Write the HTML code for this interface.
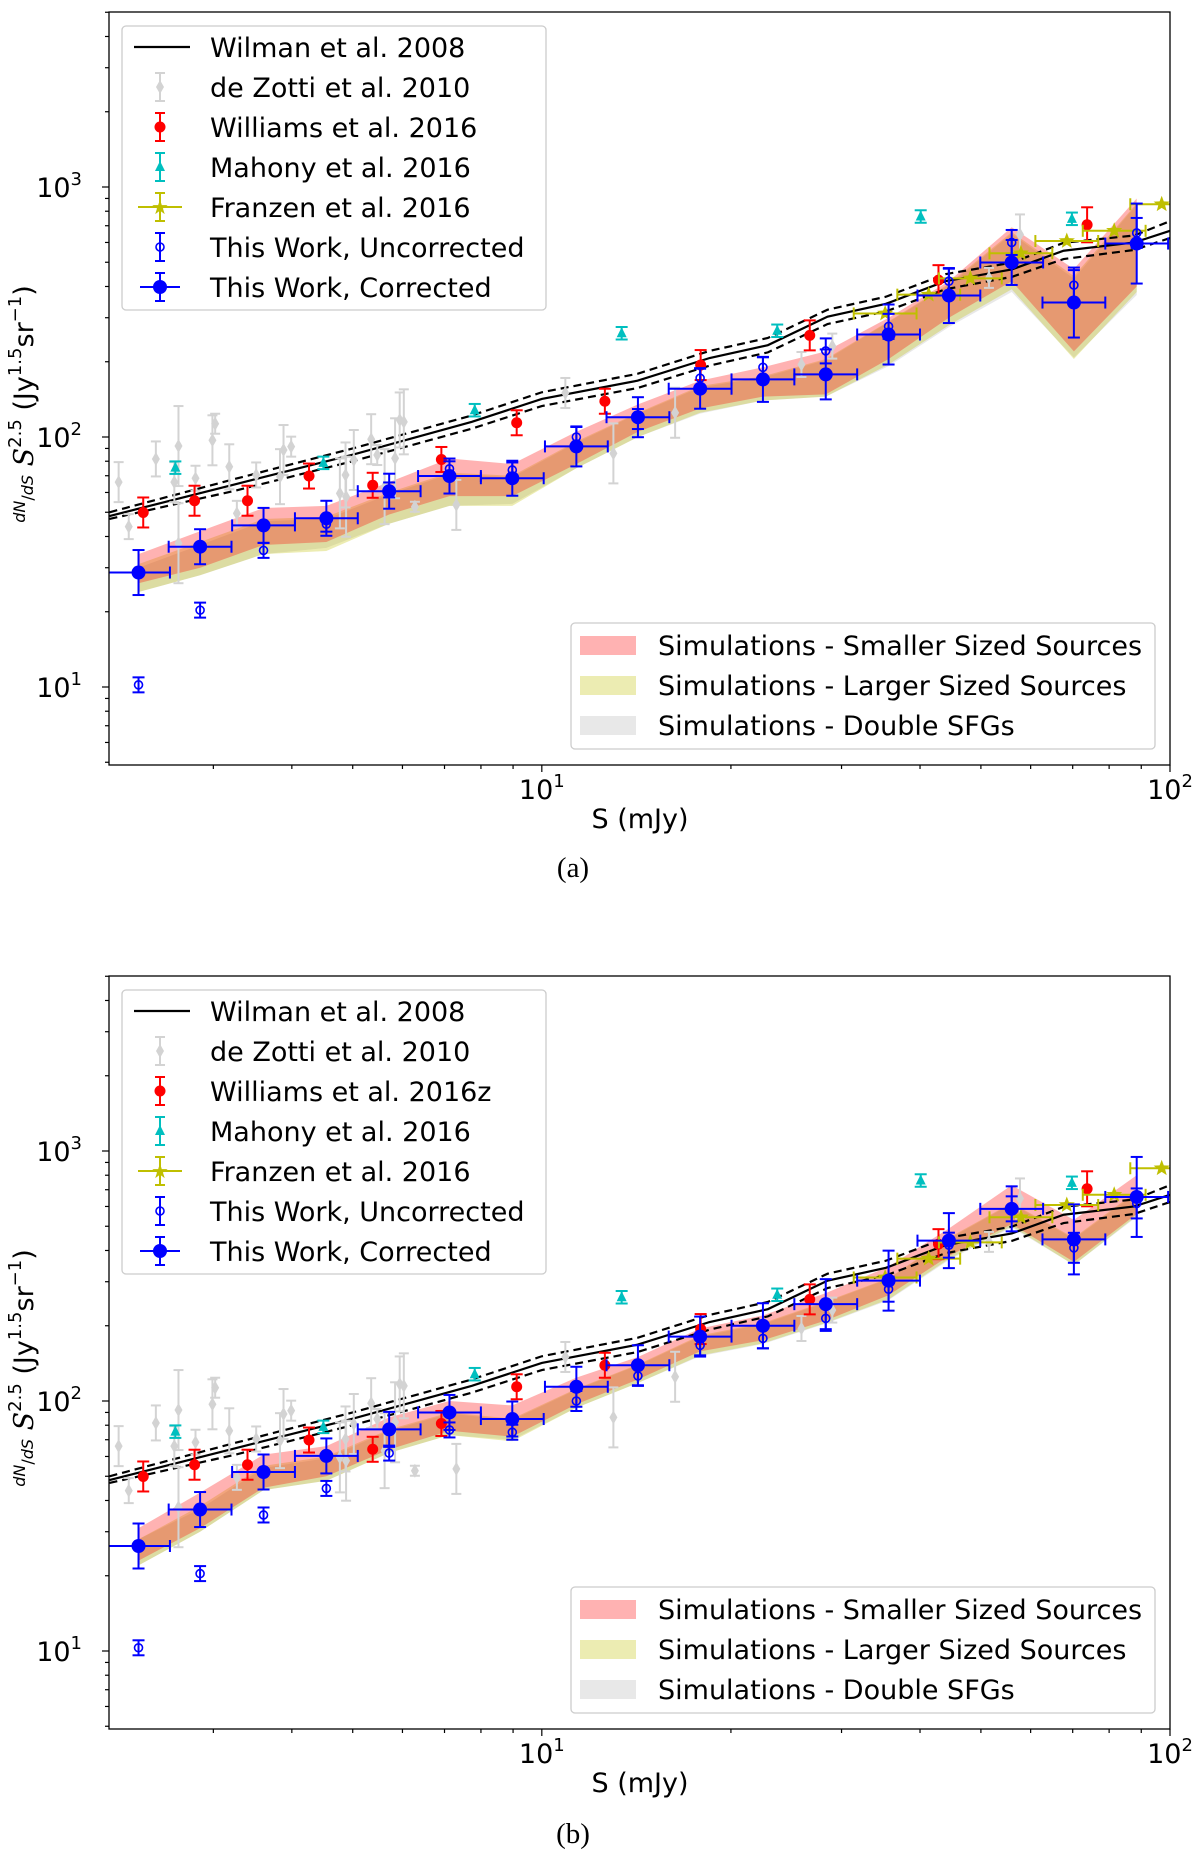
<!DOCTYPE html>
<html><head><meta charset="utf-8"><style>
html,body{margin:0;padding:0;background:#fff}
svg{display:block;font-family:"DejaVu Sans","Liberation Sans",sans-serif}
</style></head><body>
<svg id="fig" width="1200" height="1861" viewBox="0 0 1200 1861" xmlns="http://www.w3.org/2000/svg"></svg>
<script>
// ---- data ----
const binLogS = [0.358,0.456,0.557,0.657,0.757,0.853,0.953,1.055,1.153,1.252,1.352,1.452,1.552,1.648,1.748,1.847,1.947];
const corrA = [28.7,36.4,44.3,47.3,60.7,69.8,68.4,91.7,120,156,170,178,257,368,499,345,594];
const corrB = [26.3,36.8,52,60.3,77,90,84.7,114,139,181,200,244,303,438,587,443,655];
const corrErr = [0.09,0.07,0.07,0.07,0.07,0.07,0.07,0.08,0.08,0.08,0.09,0.1,0.12,0.11,0.09,0.14,0.16];
const uncA = [10.2,20.3,35.2,44.8,61.4,74.6,73.8,100,118,172,190,221,277,420,600,405,655];
const uncB = [10.3,20.4,35,44.7,61.9,76.6,75,100,126,167,178,214,280,420,587,410,617];
const uncErr = [0.03,0.03,0.03,0.03,0.03,0.03,0.03,0.04,0.04,0.04,0.04,0.05,0.05,0.05,0.05,0.06,0.06];
const pinkHiA = [34,42,52,53,66,82,78,105,135,168,190,220,300,420,690,470,900];
const pinkLoA = [26,30,37,38,49,58,58,78,105,130,145,148,205,300,420,220,400];
const yelHiA = [31,38,47,48,60,72,70,96,125,160,175,205,290,410,660,440,860];
const yelLoA = [24,28,34,35,45,53,53,75,100,125,140,145,195,280,390,205,380];
const grayHiA = [30,37,46,47,59,71,69,95,124,158,173,203,288,405,650,430,850];
const grayLoA = [24,28,34,36,45,53,54,75,100,124,140,145,192,275,380,208,370];
const pinkHiB = [31,43,61,66,86,100,96,124,150,195,220,270,345,490,730,530,800];
const pinkLoB = [23,31,45,50,64,76,72,97,122,158,175,210,265,380,510,360,560];
const yelHiB = [28,38,55,60,77,90,85,112,140,183,205,250,310,450,620,450,690];
const yelLoB = [22,30,44,48,62,73,69,94,118,152,170,205,255,370,500,350,550];
const grayHiB = [28,37,54,59,76,89,84,111,139,181,203,248,308,445,615,445,680];
const grayLoB = [22,30,44,48,62,73,70,94,118,151,169,204,253,366,495,350,545];
const wilS = [2.05,3.25,5.0,7.74,10,14.2,18.5,22.9,28.5,35.3,43.9,56,67.7,87.7,100];
const wilY = [48.3,64.7,85,115,142,168,207,233,303,341,420,468,556,600,668];
const wilUp = [50,68,90,122,151,179,221,249,323,364,448,498,598,640,730];
const wilLo = [47,61,80,108,133,157,193,218,283,318,390,437,515,560,625];
const zotS = [2.12,2.2,2.43,2.6,2.64,2.64,2.81,2.99,3.02,3.18,3.27,3.51,3.83,3.88,3.99,4.77,4.87,4.88,5.02,5.35,5.47,5.62,5.84,5.94,6.03,6.28,7.31,10.9,13,16.3,25.9,29,51.5,57.7];
const zotY = [66,43.8,81.7,66,92,37.6,68.4,97,113,76,49.5,70.5,69.4,88.7,91.5,59.5,70.5,57.7,80.9,98,84.7,63.3,82.2,117,115,52.6,53.5,150,86,125,195,231,433,646];
const zotErr = [0.08,0.05,0.07,0.08,0.16,0.16,0.05,0.1,0.04,0.09,0.05,0.05,0.11,0.1,0.04,0.14,0.13,0.16,0.12,0.1,0.04,0.15,0.16,0.11,0.13,0.02,0.1,0.06,0.12,0.1,0.05,0.05,0.04,0.08];
const wmsS = [2.32,2.8,3.4,4.26,5.38,6.92,9.12,12.6,17.9,26.7,42.8,73.8];
const wmsY = [49.9,55.6,55.6,69.8,64.1,81.3,114,139,194,255,424,706];
const wmsErr = [0.06,0.06,0.06,0.05,0.05,0.05,0.05,0.05,0.06,0.06,0.06,0.07];
const mahS = [2.61,4.49,7.82,13.4,23.7,40.1,69.8];
const mahY = [75.4,78.8,128,260,266,762,746];
const franS = [35.2,41.3,48.1,57.9,68.5,81.5,97];
const franY = [312,371,431,543,608,668,853];
const franXErr = [0.05,0.05,0.05,0.05,0.05,0.05,0.05];
const legendLabels = ["Wilman et al. 2008","de Zotti et al. 2010","Williams et al. 2016","Mahony et al. 2016","Franzen et al. 2016","This Work, Uncorrected","This Work, Corrected"];
const simLabels = ["Simulations - Smaller Sized Sources","Simulations - Larger Sized Sources","Simulations - Double SFGs"];

// ---- drawing ----
const NS = "http://www.w3.org/2000/svg";
const svg = document.getElementById('fig');
function el(tag, attrs, parent){ const e=document.createElementNS(NS,tag); for(const k in attrs) e.setAttribute(k,attrs[k]); (parent||svg).appendChild(e); return e; }
const X0=109, X1=1170, LXMIN=0.311, LXMAX=2;
const LYMIN=0.688, LYMAX=3.7;
function xs(s){ return X0+(Math.log10(s)-LXMIN)/(LXMAX-LXMIN)*(X1-X0); }
function xl(l){ return X0+(l-LXMIN)/(LXMAX-LXMIN)*(X1-X0); }

function drawPanel(top, tag, capY, corr, unc, pHi, pLo, yHi, yLo, gHi, gLo, wlabel){
  const bot = top+753;
  const ys = v => top+(LYMAX-Math.log10(v))/(LYMAX-LYMIN)*753;
  const yl = l => top+(LYMAX-l)/(LYMAX-LYMIN)*753;
  const g = el('g',{});
  
  
  const clipId='clip'+tag;
  const cp=el('clipPath',{id:clipId},g); el('rect',{x:X0,y:top,width:X1-X0,height:753},cp);
  const pg=el('g',{'clip-path':'url(#'+clipId+')'},g);
  function band(hi,lo,fill,name){
    let pts=[];
    binLogS.forEach((l,i)=>pts.push(xl(l)+','+ys(hi[i])));
    for(let i=binLogS.length-1;i>=0;i--) pts.push(xl(binLogS[i])+','+ys(lo[i]));
    const p=el('polygon',{points:pts.join(' '),fill:fill},pg);
    
    
  }
  band(gHi,gLo,'rgba(128,128,128,0.18)','band-double-sfgs');
  band(yHi,yLo,'rgba(191,191,0,0.3)','band-larger-sources');
  band(pHi,pLo,'rgba(255,0,0,0.3)','band-smaller-sources');
  function line(arr,dash,name){
    const d=wilS.map((s,i)=>(i?'L':'M')+xs(s)+','+ys(arr[i])).join(' ');
    const p=el('path',{d:d,fill:'none',stroke:'#000','stroke-width':2.2,'stroke-dasharray':dash},pg);
    
    
  }
  line(wilY,'none','wilman-line');
  line(wilUp,'8,5','wilman-upper');
  line(wilLo,'8,5','wilman-lower');
  function vbar(x,y1,y2,col,cap,w){ el('line',{x1:x,x2:x,y1:y1,y2:y2,stroke:col,'stroke-width':w||2},pg); if(cap){el('line',{x1:x-cap,x2:x+cap,y1:y1,y2:y1,stroke:col,'stroke-width':w||2},pg);el('line',{x1:x-cap,x2:x+cap,y1:y2,y2:y2,stroke:col,'stroke-width':w||2},pg);} }
  function hbar(y,x1,x2,col,cap){ el('line',{x1:x1,x2:x2,y1:y,y2:y,stroke:col,'stroke-width':2},pg); el('line',{x1:x1,x2:x1,y1:y-cap,y2:y+cap,stroke:col,'stroke-width':2},pg); el('line',{x1:x2,x2:x2,y1:y-cap,y2:y+cap,stroke:col,'stroke-width':2},pg); }
  zotS.forEach((s,i)=>{
    const x=xs(s), l=Math.log10(zotY[i]);
    vbar(x,yl(l+zotErr[i]),yl(l-zotErr[i]),'#d3d3d3',5,2);
    const y=ys(zotY[i]);
    const m=el('polygon',{points:`${x},${y-7} ${x+4},${y} ${x},${y+7} ${x-4},${y}`,fill:'#d3d3d3'},pg);
    
    
  });
  wmsS.forEach((s,i)=>{
    const x=xs(s), l=Math.log10(wmsY[i]);
    vbar(x,yl(l+wmsErr[i]),yl(l-wmsErr[i]),'#ff0000',6);
    const c=el('circle',{cx:x,cy:ys(wmsY[i]),r:5.5,fill:'#ff0000'},pg);
    
    
  });
  mahS.forEach((s,i)=>{
    const x=xs(s), l=Math.log10(mahY[i]), y=ys(mahY[i]);
    vbar(x,yl(l+0.025),yl(l-0.025),'#00bfbf',6);
    const t=el('polygon',{points:`${x},${y-6} ${x+5},${y+4} ${x-5},${y+4}`,fill:'#00bfbf'},pg);
    
    
  });
  franS.forEach((s,i)=>{
    const l=Math.log10(s), y=ys(franY[i]);
    hbar(y,xl(l-franXErr[i]),xl(l+franXErr[i]),'#bfbf00',6);
    const x=xs(s);
    const pts=[];for(let k=0;k<10;k++){const r=k%2?3.6:8.5,a=-Math.PI/2+k*Math.PI/5;pts.push((x+r*Math.cos(a))+','+(y+r*Math.sin(a)));}
    const p=el('polygon',{points:pts.join(' '),fill:'#bfbf00'},pg);
    
    
  });
  binLogS.forEach((l,i)=>{
    const x=xl(l), ly=Math.log10(unc[i]);
    vbar(x,yl(ly+uncErr[i]),yl(ly-uncErr[i]),'#0000ff',6);
    const c=el('circle',{cx:x,cy:ys(unc[i]),r:4,fill:'none',stroke:'#0000ff','stroke-width':1.6},pg);
    
    
  });
  binLogS.forEach((l,i)=>{
    const x=xl(l), ly=Math.log10(corr[i]), y=ys(corr[i]);
    vbar(x,yl(ly+corrErr[i]),yl(ly-corrErr[i]),'#0000ff',6);
    hbar(y,xl(l-0.05),xl(l+0.05),'#0000ff',6);
    const c=el('circle',{cx:x,cy:y,r:7,fill:'#0000ff'},pg);
    
    
  });
  const fr=el('rect',{x:X0,y:top,width:X1-X0,height:753,fill:'none',stroke:'#000','stroke-width':1.3},g);
  
  
  for(let dec=0;dec<=2;dec++){ for(let k=1;k<10;k++){ const v=k*Math.pow(10,dec); const l=Math.log10(v); if(l<LXMIN-1e-9||l>LXMAX+1e-9) continue; const x=xl(l); const major=(k===1); el('line',{x1:x,x2:x,y1:bot,y2:bot+(major?7:4),stroke:'#000','stroke-width':1.2},g); if(major){ const t=el('text',{x:x,y:bot+34,'font-size':27,'text-anchor':'middle',fill:'#000'},g);   t.appendChild(document.createTextNode('10')); const s=el('tspan',{'font-size':18,dy:-12},t); s.textContent=String(dec);} } }
  for(let dec=0;dec<=3;dec++){ for(let k=1;k<10;k++){ const v=k*Math.pow(10,dec); const l=Math.log10(v); if(l<LYMIN||l>LYMAX) continue; const y=yl(l); const major=(k===1); el('line',{x1:X0,x2:X0-(major?7:4),y1:y,y2:y,stroke:'#000','stroke-width':1.2},g); if(major){ const t=el('text',{x:82,y:y+10,'font-size':27,'text-anchor':'end',fill:'#000'},g);   t.appendChild(document.createTextNode('10')); const s=el('tspan',{'font-size':18,dy:-12},t); s.textContent=String(dec);} } }
  const xlab=el('text',{x:640,y:bot+63,'font-size':27,'text-anchor':'middle'},g);
  
  
  xlab.textContent='S (mJy)';
  const ylab=el('text',{transform:`translate(33,${top+392}) rotate(-90)`,'font-size':27,'text-anchor':'middle'},g);
  
  
  ylab.innerHTML='<tspan font-size="16" font-style="italic" dy="-8">dN</tspan><tspan font-size="16" dy="8">/</tspan><tspan font-size="16" font-style="italic">dS</tspan><tspan font-style="italic" font-family="DejaVu Serif"> S</tspan><tspan font-size="18" dy="-12">2.5</tspan><tspan dy="12">   (Jy</tspan><tspan font-size="18" dy="-12">1.5</tspan><tspan dy="12">sr</tspan><tspan font-size="18" dy="-12">−1</tspan><tspan dy="12">)</tspan>';
  const cap=el('text',{x:573,y:capY,'font-size':29,'text-anchor':'middle','font-family':'Liberation Serif, serif'},g);
  
  
  cap.textContent='('+tag+')';
  const lg=el('g',{},g);
  
  
  el('rect',{x:122,y:top+14,width:424,height:284,rx:4,fill:'rgba(255,255,255,0.85)',stroke:'#ccc','stroke-width':1.3},lg);
  const labs=legendLabels.slice(); labs[2]=wlabel;
  labs.forEach((lab,i)=>{
    const y=top+35+i*40, mx=160;
    if(i===0) el('line',{x1:134,x2:190,y1:y,y2:y,stroke:'#000','stroke-width':2.2},lg);
    else{
      const col=['','#d3d3d3','#ff0000','#00bfbf','#bfbf00','#0000ff','#0000ff'][i];
      el('line',{x1:mx,x2:mx,y1:y-14,y2:y+14,stroke:col,'stroke-width':2},lg);
      el('line',{x1:mx-5,x2:mx+5,y1:y-14,y2:y-14,stroke:col,'stroke-width':2},lg);
      el('line',{x1:mx-5,x2:mx+5,y1:y+14,y2:y+14,stroke:col,'stroke-width':2},lg);
      if(i===1) el('polygon',{points:`${mx},${y-7} ${mx+4},${y} ${mx},${y+7} ${mx-4},${y}`,fill:col},lg);
      if(i===2) el('circle',{cx:mx,cy:y,r:5.5,fill:col},lg);
      if(i===3) el('polygon',{points:`${mx},${y-6} ${mx+5},${y+4} ${mx-5},${y+4}`,fill:col},lg);
      if(i===4){ el('line',{x1:mx-22,x2:mx+22,y1:y,y2:y,stroke:col,'stroke-width':2},lg); el('text',{x:mx,y:y+7,'font-size':20,'text-anchor':'middle',fill:col},lg).textContent='★'; }
      if(i===5) el('circle',{cx:mx,cy:y,r:4,fill:'none',stroke:col,'stroke-width':1.6},lg);
      if(i===6){ el('line',{x1:mx-20,x2:mx+20,y1:y,y2:y,stroke:col,'stroke-width':2},lg); el('circle',{cx:mx,cy:y,r:7,fill:col},lg); }
    }
    const t=el('text',{x:210,y:y+10,'font-size':27},lg);
    
    
    t.textContent=lab;
  });
  const lg2=el('g',{},g);
  
  
  el('rect',{x:571,y:top+611,width:584,height:126,rx:4,fill:'rgba(255,255,255,0.85)',stroke:'#ccc','stroke-width':1.3},lg2);
  const cols=['rgba(255,0,0,0.3)','rgba(191,191,0,0.3)','rgba(128,128,128,0.18)'];
  simLabels.forEach((lab,i)=>{
    const y=top+633+i*40;
    el('rect',{x:580,y:y-9,width:56,height:19,fill:cols[i]},lg2);
    const t=el('text',{x:658,y:y+10,'font-size':27},lg2);
    
    
    t.textContent=lab;
  });
}
drawPanel(12,'a',877,corrA,uncA,pinkHiA,pinkLoA,yelHiA,yelLoA,grayHiA,grayLoA,'Williams et al. 2016');
drawPanel(976,'b',1843,corrB,uncB,pinkHiB,pinkLoB,yelHiB,yelLoB,grayHiB,grayLoB,'Williams et al. 2016z');
</script>
</body></html>
